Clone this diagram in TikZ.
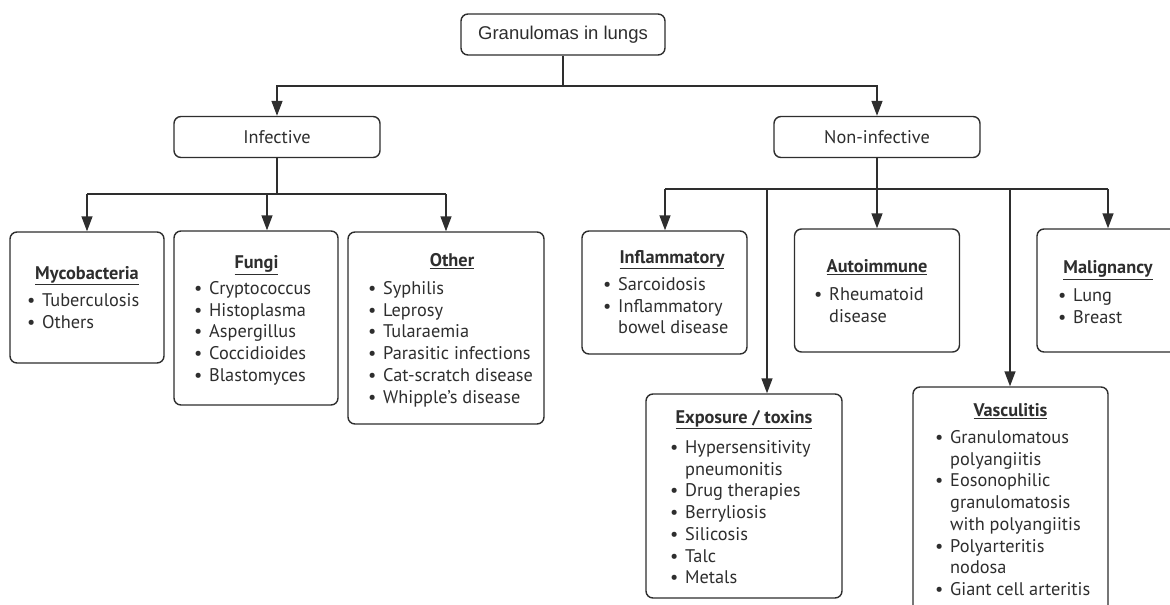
\documentclass[tikz,border=0pt]{standalone}
\usepackage{fontspec}
\setmainfont{PT Sans}
\newfontfamily\topfont{Liberation Sans}
\usetikzlibrary{arrows.meta}
\definecolor{ink}{HTML}{2E2E2E}
\newcommand\itm[1]{\par\hangindent=15pt\hangafter=1\noindent\makebox[15pt][l]{\textbullet}#1}
\newcommand\blist[1]{\parbox[t]{240pt}{\raggedright\parskip=0pt\fontsize{18.3}{21.7}\selectfont #1}}
\begin{document}
\begin{tikzpicture}[x=1pt,y=-1pt,
  box/.style={draw=ink, line width=1.4pt, rounded corners=7pt, fill=white, inner sep=0pt, text=ink},
  arr/.style={draw=ink, line width=1.4pt, -{Triangle[length=15pt,width=11pt]}},
  ln/.style={draw=ink, line width=1.4pt},
  head/.style={font=\fontsize{18.3}{21.7}\selectfont\bfseries, text=ink, inner sep=0pt, anchor=mid},
  lst/.style={text=ink, inner sep=0pt, anchor=mid west},
  lvl/.style={font=\fontsize{18.3}{21}\selectfont}
]
\useasboundingbox (0,0) rectangle (1170,605);
\clip (0,0) rectangle (1170,605);

% level 0/1
\node[box, minimum width=204pt, minimum height=41pt, font=\topfont\fontsize{18.5}{21}\selectfont] (top) at (563,34.5) {Granulomas in lungs};
\node[box, lvl, minimum width=206pt, minimum height=41pt] (inf) at (277,137) {Infective};
\node[box, lvl, minimum width=206pt, minimum height=41pt] (noninf) at (877,137) {Non-infective};

% infective boxes
\node[box, minimum width=154pt, minimum height=131pt] (myco) at (87,297.5) {};
\node[head] (mycoH) at (87,277) {\underline{Mycobacteria}};
\node[lst] (mycoL) at (27,304) {\blist{\itm{Tuberculosis}\itm{Others}}};

\node[box, minimum width=164pt, minimum height=174pt] (fungi) at (256,318) {};
\node[head] (fungiH) at (256.5,266) {\underline{Fungi}};
\node[lst] (fungiL) at (194,292) {\blist{\itm{Cryptococcus}\itm{Histoplasma}\itm{Aspergillus}\itm{Coccidioides}\itm{Blastomyces}}};

\node[box, minimum width=196pt, minimum height=192pt] (other) at (446,328) {};
\node[head] (otherH) at (452,264) {\underline{Other}};
\node[lst] (otherL) at (368,292) {\blist{\itm{Syphilis}\itm{Leprosy}\itm{Tularaemia}\itm{Parasitic infections}\itm{Cat-scratch disease}\itm{Whipple's disease}}};

% non-infective boxes
\node[box, minimum width=165pt, minimum height=123pt] (inflam) at (664.5,292.5) {};
\node[head] (inflamH) at (672,261) {\underline{Inflammatory}};
\node[lst] (inflamL) at (603,288) {\blist{\itm{Sarcoidosis}\itm{Inflammatory\newline bowel disease}}};

\node[box, minimum width=165pt, minimum height=123pt] (auto) at (877,290.5) {};
\node[head] (autoH) at (877,270) {\underline{Autoimmune}};
\node[lst] (autoL) at (814,298) {\blist{\itm{Rheumatoid\newline disease}}};

\node[box, minimum width=142pt, minimum height=123pt] (malig) at (1108,290.5) {};
\node[head] (maligH) at (1108,271) {\underline{Malignancy}};
\node[lst] (maligL) at (1058,299) {\blist{\itm{Lung}\itm{Breast}}};

\node[box, minimum width=196pt, minimum height=204pt] (expo) at (744,496) {};
\node[head] (expoH) at (744,421) {\underline{Exposure / toxins}};
\node[lst] (expoL) at (670,451) {\blist{\itm{Hypersensitivity\newline pneumonitis}\itm{Drug therapies}\itm{Berryliosis}\itm{Silicosis}\itm{Talc}\itm{Metals}}};

\node[box, minimum width=195pt, minimum height=228pt] (vasc) at (1010.5,501) {};
\node[head] (vascH) at (1010.5,414) {\underline{Vasculitis}};
\node[lst] (vascL) at (935,441) {\blist{\itm{Granulomatous\newline polyangiitis}\itm{Eosonophilic\newline granulomatosis\newline with polyangiitis}\itm{Polyarteritis\newline nodosa}\itm{Giant cell arteritis}}};

% connectors
\coordinate (j0) at (563,86);
\draw[ln] (top) -- (j0);
\draw[arr] (j0) -| (inf);
\draw[arr] (j0) -| (noninf);

\coordinate (j1) at (277,194);
\coordinate (jm) at (87,194);
\coordinate (jf) at (267,194);
\coordinate (jo) at (446,194);
\draw[ln] (inf) -- (j1);
\draw[ln] (jm) -- (jo);
\draw[arr] (jm) -- (jm |- myco.north);
\draw[arr] (jf) -- (jf |- fungi.north);
\draw[arr] (jo) -- (jo |- other.north);

\coordinate (ka) at (665,189);
\coordinate (kb) at (1108,189);
\coordinate (ke) at (767,189);
\coordinate (kv) at (1010,189);
\draw[arr] (noninf.south) -- (noninf.south |- auto.north);
\draw[ln] (ka) -- (kb);
\draw[arr] (ka) -- (ka |- inflam.north);
\draw[arr] (ke) -- (ke |- expo.north);
\draw[arr] (kv) -- (kv |- vasc.north);
\draw[arr] (kb) -- (kb |- malig.north);
\end{tikzpicture}
\end{document}
